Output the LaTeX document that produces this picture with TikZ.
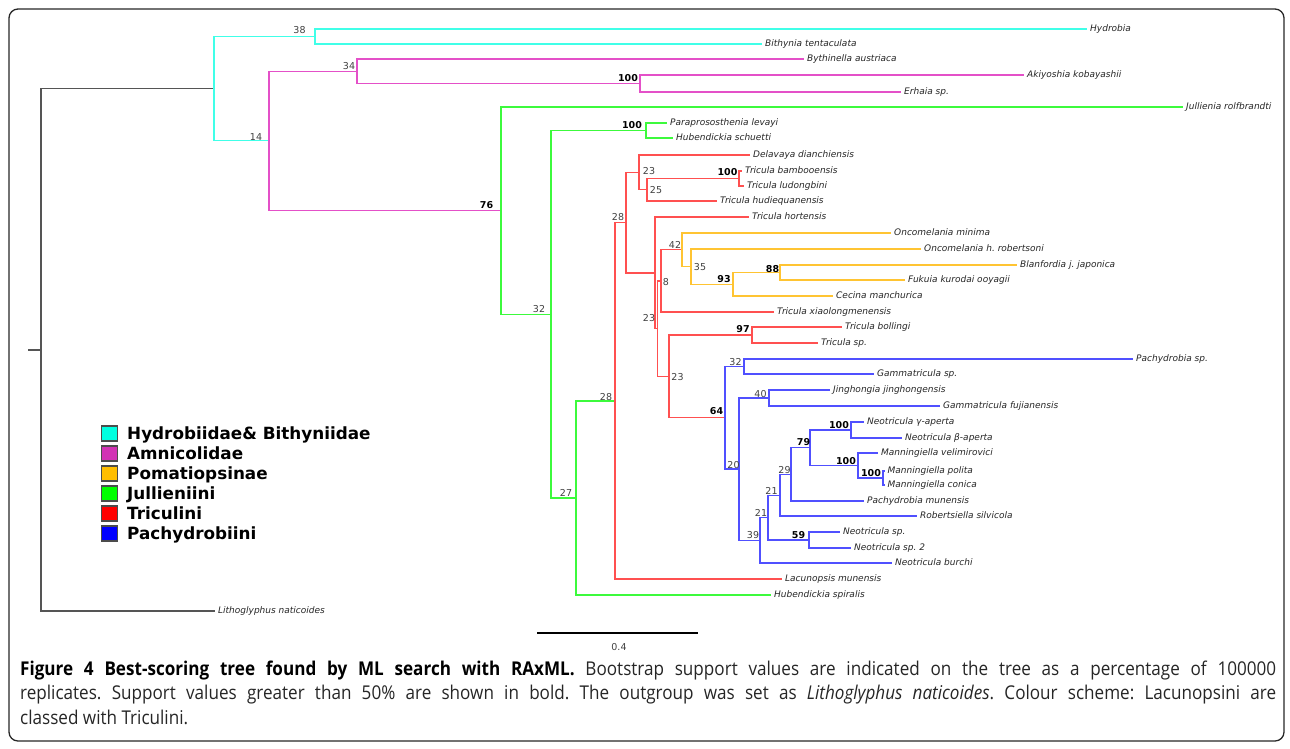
\documentclass[tikz,border=0pt]{standalone}
\usepackage{fontspec}
\setmainfont{DejaVu Sans}
\newfontfamily\capfont[FakeStretch=0.9]{Open Sans}
\usepackage{tikz}

\definecolor{hydro}{RGB}{64,255,232}
\definecolor{amnic}{RGB}{228,80,200}
\definecolor{pomat}{RGB}{255,196,50}
\definecolor{jull}{RGB}{60,250,60}
\definecolor{tricu}{RGB}{255,80,80}
\definecolor{pachy}{RGB}{80,80,255}
\definecolor{rootgray}{RGB}{85,85,85}
\definecolor{boxcyan}{RGB}{0,255,224}
\definecolor{boxmag}{RGB}{210,50,180}
\definecolor{boxorange}{RGB}{255,190,0}

\begin{document}
\frenchspacing
\begin{tikzpicture}[x=1pt,y=-1pt,
    br/.style={line width=1.1pt,line cap=rect},
    leaf/.style={anchor=west,inner xsep=3.5pt,inner ysep=0pt,text=black!85,
        font=\itshape\fontsize{9}{10}\selectfont,text height=6.5pt,text depth=2pt},
    bs/.style={inner sep=0pt,text=black!75,font=\fontsize{9.5}{10}\selectfont},
    bsb/.style={inner sep=0pt,text=black,font=\bfseries\fontsize{9.5}{10}\selectfont},
    legbox/.style={draw=black!70,line width=1.2pt,minimum width=16pt,minimum height=15pt,inner sep=0pt},
    legtext/.style={anchor=west,inner sep=0pt,text height=12pt,text depth=0pt,
        font=\bfseries\fontsize{16.8}{18}\selectfont},
    captext/.style={anchor=base west,inner sep=0pt,text=black!85,font=\capfont\fontsize{19}{23}\selectfont}]
    \useasboundingbox (0,0) rectangle (1290,748);
    \draw[line width=1.3pt,rounded corners=9pt,black!85] (9,9) rectangle (1284,741);

    % leaves
    \node[leaf] (hydrobia) at (1086.5,29) {Hydrobia};
    \node[leaf] (bithynia) at (761.5,44) {Bithynia tentaculata};
    \node[leaf] (bythinella) at (803.5,59) {Bythinella austriaca};
    \node[leaf] (akiyoshia) at (1023.5,75) {Akiyoshia kobayashii};
    \node[leaf] (erhaia) at (900.5,92) {Erhaia sp.};
    \node[leaf] (jullienia) at (1182.5,107) {Jullienia rolfbrandti};
    \node[leaf] (paraproso) at (666.5,123) {Paraprososthenia levayi};
    \node[leaf] (hubschuetti) at (672.5,138) {Hubendickia schuetti};
    \node[leaf] (delavaya) at (749.5,155) {Delavaya dianchiensis};
    \node[leaf] (bambooensis) at (741.5,171) {Tricula bambooensis};
    \node[leaf] (ludongbini) at (743.5,186) {Tricula ludongbini};
    \node[leaf] (hudieq) at (716.5,201) {Tricula hudiequanensis};
    \node[leaf] (hortensis) at (748.5,217) {Tricula hortensis};
    \node[leaf] (oncminima) at (890.5,233) {Oncomelania minima};
    \node[leaf] (oncrobert) at (920.5,249) {Oncomelania h. robertsoni};
    \node[leaf] (blanfordia) at (1016.5,265) {Blanfordia j. japonica};
    \node[leaf] (fukuia) at (904.5,280) {Fukuia kurodai ooyagii};
    \node[leaf] (cecina) at (832.5,296) {Cecina manchurica};
    \node[leaf] (xiaolong) at (773.5,312) {Tricula xiaolongmenensis};
    \node[leaf] (bollingi) at (841.5,327) {Tricula bollingi};
    \node[leaf] (triculasp) at (817.5,343) {Tricula sp.};
    \node[leaf] (pachysp) at (1132.5,359) {Pachydrobia sp.};
    \node[leaf] (gammasp) at (873.5,374) {Gammatricula sp.};
    \node[leaf] (jinghongia) at (829.5,390) {Jinghongia jinghongensis};
    \node[leaf] (gammafuj) at (939.5,406) {Gammatricula fujianensis};
    \node[leaf] (gamma) at (863.5,422) {Neotricula γ-aperta};
    \node[leaf] (beta) at (901.5,438) {Neotricula β-aperta};
    \node[leaf] (velimir) at (877.5,453) {Manningiella velimirovici};
    \node[leaf] (polita) at (884,471) {Manningiella polita};
    \node[leaf] (conica) at (884,485) {Manningiella conica};
    \node[leaf] (pachymun) at (863.5,501) {Pachydrobia munensis};
    \node[leaf] (robertsiella) at (916.5,516) {Robertsiella silvicola};
    \node[leaf] (neosp) at (839.5,532) {Neotricula sp.};
    \node[leaf] (neosp2) at (850.5,548) {Neotricula sp. 2};
    \node[leaf] (burchi) at (891.5,563) {Neotricula burchi};
    \node[leaf] (lacunopsis) at (781.5,579) {Lacunopsis munensis};
    \node[leaf] (hubspiralis) at (770.5,595) {Hubendickia spiralis};
    \node[leaf] (lithoglyphus) at (214.5,611) {Lithoglyphus naticoides};

    % inner nodes
    \coordinate (stub) at (29,350);
    \coordinate (root) at (41,350);
    \coordinate (hydnode) at (214,88.5);
    \coordinate (n38) at (315,36.5);
    \coordinate (n14) at (269,140.75);
    \coordinate (n34) at (357,71.25);
    \coordinate (amn100) at (640,83.5);
    \coordinate (n76) at (501,210.75);
    \coordinate (jul32) at (551,314.5);
    \coordinate (jul100) at (646,130.5);
    \coordinate (n27) at (576,498);
    \coordinate (lac28) at (615,401);
    \coordinate (tri28) at (626,222.75);
    \coordinate (tri23a) at (639,172.5);
    \coordinate (tri25) at (647,189.75);
    \coordinate (tri100) at (739,178.5);
    \coordinate (trix) at (655,273);
    \coordinate (tri23b) at (657.5,328.75);
    \coordinate (n8) at (661,281);
    \coordinate (n42) at (682,249.75);
    \coordinate (n35) at (691,266.5);
    \coordinate (n93) at (733,284.25);
    \coordinate (n88) at (780,272.5);
    \coordinate (tri23c) at (669,376.5);
    \coordinate (n97) at (752,335);
    \coordinate (n64) at (725,417.75);
    \coordinate (pac32) at (744,366.5);
    \coordinate (n20) at (739,469);
    \coordinate (n40) at (769,398);
    \coordinate (n39) at (760,540.25);
    \coordinate (pac21b) at (768,517.75);
    \coordinate (n59) at (809,540);
    \coordinate (pac21a) at (780,495.5);
    \coordinate (n29) at (791,474.75);
    \coordinate (n79) at (810,447.75);
    \coordinate (pac100a) at (851,430);
    \coordinate (pac100b) at (858,465.5);
    \coordinate (pac100c) at (883,478);

    % branches
    \draw[br,rootgray] (stub) -- (root) (root) |- (hydnode) (root) |- (lithoglyphus.west);
    \draw[br,hydro] (hydnode) |- (n38) (hydnode) |- (n14)
        (n38) |- (hydrobia.west) (n38) |- (bithynia.west);
    \draw[br,amnic] (n14) |- (n34) (n14) |- (n76)
        (n34) |- (bythinella.west) (n34) |- (amn100)
        (amn100) |- (akiyoshia.west) (amn100) |- (erhaia.west);
    \draw[br,jull] (n76) |- (jullienia.west) (n76) |- (jul32)
        (jul32) |- (jul100) (jul32) |- (n27)
        (jul100) |- (paraproso.west) (jul100) |- (hubschuetti.west)
        (n27) |- (lac28) (n27) |- (hubspiralis.west);
    \draw[br,tricu] (lac28) |- (tri28) (lac28) |- (lacunopsis.west)
        (tri28) |- (tri23a) (tri28) |- (trix)
        (tri23a) |- (delavaya.west) (tri23a) |- (tri25)
        (tri25) |- (tri100) (tri25) |- (hudieq.west)
        (tri100) |- (bambooensis.west) (tri100) |- (ludongbini.west)
        (trix) |- (hortensis.west) (trix) |- (tri23b)
        (tri23b) |- (n8) (tri23b) |- (tri23c)
        (n8) |- (n42) (n8) |- (xiaolong.west)
        (tri23c) |- (n97) (tri23c) |- (n64)
        (n97) |- (bollingi.west) (n97) |- (triculasp.west);
    \draw[br,pomat] (n42) |- (oncminima.west) (n42) |- (n35)
        (n35) |- (oncrobert.west) (n35) |- (n93)
        (n93) |- (n88) (n93) |- (cecina.west)
        (n88) |- (blanfordia.west) (n88) |- (fukuia.west);
    \draw[br,pachy] (n64) |- (pac32) (n64) |- (n20)
        (pac32) |- (pachysp.west) (pac32) |- (gammasp.west)
        (n20) |- (n40) (n20) |- (n39)
        (n40) |- (jinghongia.west) (n40) |- (gammafuj.west)
        (n39) |- (pac21b) (n39) |- (burchi.west)
        (pac21b) |- (pac21a) (pac21b) |- (n59)
        (n59) |- (neosp.west) (n59) |- (neosp2.west)
        (pac21a) |- (n29) (pac21a) |- (robertsiella.west)
        (n29) |- (n79) (n29) |- (pachymun.west)
        (n79) |- (pac100a) (n79) |- (pac100b)
        (pac100a) |- (gamma.west) (pac100a) |- (beta.west)
        (pac100b) |- (velimir.west) (pac100b) |- (pac100c)
        (pac100c) |- (polita.west) (pac100c) |- (conica.west);

    % bootstrap values
    \node[bs] (b38) at (299.5,30.5) {38};
    \node[bs] (b34) at (349,66.5) {34};
    \node[bs] (b14) at (256,137) {14};
    \node[bsb] (b100amn) at (628,78) {100};
    \node[bsb] (b76) at (486.5,205) {76};
    \node[bs] (b32jul) at (539,309) {32};
    \node[bsb] (b100jul) at (632,125) {100};
    \node[bs] (b27) at (566,492.5) {27};
    \node[bs] (b28lac) at (606,397) {28};
    \node[bs] (b28tri) at (618,216.7) {28};
    \node[bs] (b23a) at (649,171) {23};
    \node[bs] (b25) at (656,190) {25};
    \node[bsb] (b100tri) at (727.5,172) {100};
    \node[bs] (b23b) at (649,317.7) {23};
    \node[bs] (b8) at (666,282) {8};
    \node[bs] (b42) at (675,245) {42};
    \node[bs] (b35) at (700,267) {35};
    \node[bsb] (b93) at (724,279) {93};
    \node[bsb] (b88) at (772.5,268.7) {88};
    \node[bsb] (b97) at (743,329) {97};
    \node[bs] (b23c) at (677.5,377) {23};
    \node[bsb] (b64) at (716.5,410.7) {64};
    \node[bs] (b32pac) at (735.5,362) {32};
    \node[bs] (b20) at (733.5,464.7) {20};
    \node[bs] (b40) at (760.5,393.7) {40};
    \node[bs] (b39) at (753,534.7) {39};
    \node[bs] (b21b) at (761,512.7) {21};
    \node[bs] (b21a) at (771.5,491) {21};
    \node[bs] (b29) at (784.5,470) {29};
    \node[bsb] (b59) at (798.5,535) {59};
    \node[bsb] (b79) at (803.5,442) {79};
    \node[bsb] (b100a) at (839,424.7) {100};
    \node[bsb] (b100b) at (846,460.7) {100};
    \node[bsb] (b100c) at (871,473) {100};

    % scale bar
    \coordinate (sbleft) at (537,633);
    \coordinate (sbright) at (698,633);
    \draw[line width=2.6pt] (sbleft) -- (sbright);
    \node[bs] (sblabel) at (619,647) {0.4};

    % legend
    \node[legbox,fill=boxcyan] (box1) at (109.5,433.5) {};
    \node[legbox,fill=boxmag] (box2) at (109.5,453.5) {};
    \node[legbox,fill=boxorange] (box3) at (109.5,473.5) {};
    \node[legbox,fill=green] (box4) at (109.5,493.5) {};
    \node[legbox,fill=red] (box5) at (109.5,513.5) {};
    \node[legbox,fill=blue] (box6) at (109.5,533.5) {};
    \node[legtext] (leg1) at (127,433.5) {Hydrobiidae\& Bithyniidae};
    \node[legtext] (leg2) at (127,453.5) {Amnicolidae};
    \node[legtext] (leg3) at (127,473.5) {Pomatiopsinae};
    \node[legtext] (leg4) at (127,493.5) {Jullieniini};
    \node[legtext] (leg5) at (127,513.5) {Triculini};
    \node[legtext] (leg6) at (127,533.5) {Pachydrobiini};

    % caption
    \node[captext] (cap1) at (20,675) {\makebox[1256pt][s]{\textbf{\color{black}Figure 4 Best-scoring tree found by ML search with RAxML.} Bootstrap support values are indicated on the tree as a percentage of 100000}};
    \node[captext] (cap2) at (20,699.5) {\makebox[1256pt][s]{replicates. Support values greater than 50\% are shown in bold. The outgroup was set as \textit{Lithoglyphus naticoides}. Colour scheme: Lacunopsini are}};
    \node[captext] (cap3) at (20,724) {classed with Triculini.};
\end{tikzpicture}
\end{document}
